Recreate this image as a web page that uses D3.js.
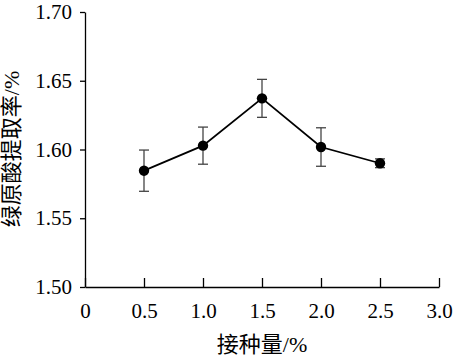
<!DOCTYPE html>
<html><head><meta charset="utf-8">
<script src="https://cdn.jsdelivr.net/npm/d3@7"></script>
<style>
body{margin:0;background:#fff}
svg text{font-family:"Liberation Serif","Times New Roman","DejaVu Serif","Noto Sans CJK SC",serif;}
</style>
</head><body>
<svg id="c" width="453" height="357"></svg>
<script>
const xVals = [0.5, 1.0, 1.5, 2.0, 2.5];
const yVals = [1.5846, 1.6028, 1.6372, 1.6018, 1.5900];
const yErr = [0.0150, 0.0135, 0.0138, 0.0140, 0.0032];
const xTicks = [0, 0.5, 1.0, 1.5, 2.0, 2.5, 3.0];
const yTicks = [1.50, 1.55, 1.60, 1.65, 1.70];
const xTitle = "接种量/%";
const yTitle = "绿原酸提取率/%";

(function(){
const svg = d3.select("#c");
const mLeft = 85, mRight = 439, mTop = 12, mBottom = 287;
const x = d3.scaleLinear().domain([0, 3]).range([mLeft, mRight]);
const y = d3.scaleLinear().domain([1.5, 1.7]).range([mBottom, mTop]);

// X axis
const xa = svg.append("g").attr("transform", `translate(0,${mBottom})`)
  .call(d3.axisBottom(x).tickValues(xTicks).tickSizeInner(-9).tickSizeOuter(0).tickPadding(16)
    .tickFormat(d => d === 0 ? "0" : d3.format(".1f")(d)));
xa.attr("font-family", null);
xa.select(".domain").attr("stroke", "#000").attr("stroke-width", 1.3);
xa.selectAll(".tick line").attr("stroke", "#000").attr("stroke-width", 1.3);
xa.selectAll("text").attr("font-size", 21).attr("fill", "#000");

// Y axis
const ya = svg.append("g").attr("transform", `translate(${mLeft},0)`)
  .call(d3.axisLeft(y).tickValues(yTicks).tickSizeInner(5).tickSizeOuter(0).tickPadding(8)
    .tickFormat(d3.format(".2f")));
ya.attr("font-family", null);
ya.select(".domain").attr("stroke", "#000").attr("stroke-width", 1.3);
ya.selectAll(".tick line").attr("stroke", "#000").attr("stroke-width", 1.3);
ya.selectAll("text").attr("font-size", 21).attr("fill", "#000");

const data = xVals.map((v, i) => ({x: v, y: yVals[i], e: yErr[i]}));

// error bars
const eb = svg.append("g").attr("stroke", "#444").attr("stroke-width", 1.3);
data.forEach(d => {
  eb.append("line").attr("x1", x(d.x)).attr("x2", x(d.x)).attr("y1", y(d.y + d.e)).attr("y2", y(d.y - d.e));
  eb.append("line").attr("x1", x(d.x) - 5).attr("x2", x(d.x) + 5).attr("y1", y(d.y + d.e)).attr("y2", y(d.y + d.e));
  eb.append("line").attr("x1", x(d.x) - 5).attr("x2", x(d.x) + 5).attr("y1", y(d.y - d.e)).attr("y2", y(d.y - d.e));
});

// line
svg.append("path").datum(data)
  .attr("d", d3.line().x(d => x(d.x)).y(d => y(d.y)))
  .attr("fill", "none").attr("stroke", "#000").attr("stroke-width", 1.8);

svg.append("g").selectAll("circle").data(data).join("circle")
  .attr("cx", d => x(d.x)).attr("cy", d => y(d.y)).attr("r", 5.2).attr("fill", "#000");

// titles
svg.append("text").attr("x", 262).attr("y", 352).attr("text-anchor", "middle")
  .attr("font-size", 22).attr("fill", "#000").text(xTitle);
svg.append("text").attr("transform", "translate(19,149) rotate(-90)").attr("text-anchor", "middle")
  .attr("font-size", 22).attr("fill", "#000").text(yTitle);
})();
</script>
</body></html>
